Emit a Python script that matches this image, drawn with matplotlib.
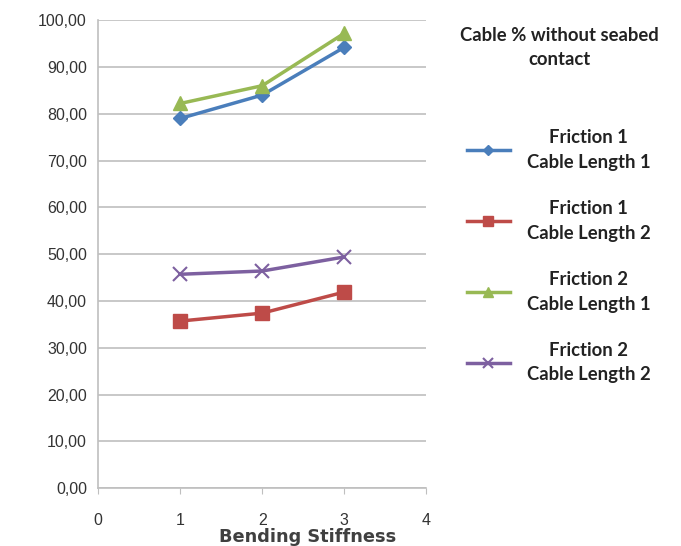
import matplotlib
matplotlib.use("Agg")
import matplotlib.pyplot as plt
from matplotlib.ticker import FuncFormatter

# bending stiffness cases
stiffness = [1, 2, 3]

# cable share without seabed contact (%)
f1_len1 = [79.0, 84.0, 94.2]
f1_len2 = [35.7, 37.4, 41.9]
f2_len1 = [82.2, 86.0, 97.2]
f2_len2 = [45.7, 46.4, 49.4]

labels = ["Friction 1\nCable Length 1", "Friction 1\nCable Length 2",
          "Friction 2\nCable Length 1", "Friction 2\nCable Length 2"]

fig = plt.figure(figsize=(6.81, 5.46), dpi=100)
ax = fig.add_axes([0.144, 0.106, 0.482, 0.857])

ax.plot(stiffness, f1_len1, color="#4A7EBB", lw=2.5, marker="D", ms=7, label=labels[0])
ax.plot(stiffness, f1_len2, color="#BE4B48", lw=2.5, marker="s", ms=10, label=labels[1])
ax.plot(stiffness, f2_len1, color="#98B954", lw=2.5, marker="^", ms=10, label=labels[2])
ax.plot(stiffness, f2_len2, color="#7D60A0", lw=2.5, marker="x", ms=10, mew=1.5, label=labels[3])

ax.set_xlim(0, 4)
ax.set_ylim(0, 100)
ax.set_xticks([0, 1, 2, 3, 4])
ax.set_yticks(range(0, 101, 10))
ax.yaxis.set_major_formatter(FuncFormatter(lambda v, p: f"{v:.2f}".replace(".", ",")))
ax.grid(axis="y", color="#BFBFBF", lw=1.2)
ax.set_axisbelow(True)
for s in ["top", "right"]:
    ax.spines[s].set_visible(False)
for s in ["left", "bottom"]:
    ax.spines[s].set_color("#BFBFBF")
    ax.spines[s].set_linewidth(1.2)
ax.tick_params(axis="y", length=0, labelsize=11.5, labelcolor="#333333", pad=8)
ax.tick_params(axis="x", length=4, color="#BFBFBF", labelsize=11.5, labelcolor="#333333", pad=14)
for t in ax.get_xticklabels() + ax.get_yticklabels():
    t.set_family("Liberation Sans")

fig.text(0.451, 0.0, "Bending Stiffness", ha="center", va="bottom",
         fontsize=12.8, fontweight="bold", color="#404040", family="DejaVu Sans")

fig.text(0.822, 0.913, "Cable % without seabed\ncontact", ha="center", va="center",
         fontsize=13.3, fontweight="bold", color="#222222", family="Lato",
         multialignment="center", linespacing=1.5)

leg = ax.legend(loc="upper left", bbox_to_anchor=(0.661, 0.794), bbox_transform=fig.transFigure,
                frameon=False, labelspacing=1.58, handlelength=2.35, handletextpad=0.9,
                markerscale=0.75,
                prop={"family": "Lato", "weight": "bold", "size": 13.3})
for t in leg.get_texts():
    t.set_multialignment("center")
    t.set_color("#222222")
    t.set_linespacing(1.55)

fig.savefig("out.png", dpi=100)
